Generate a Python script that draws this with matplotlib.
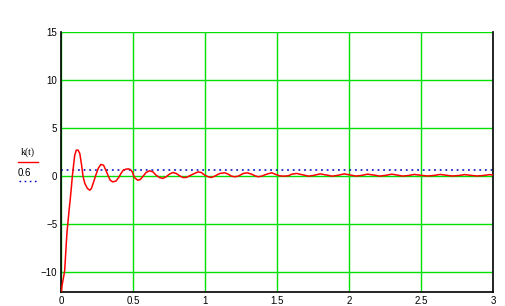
import matplotlib
matplotlib.use("Agg")
import matplotlib.pyplot as plt
from matplotlib.lines import Line2D

# Data
t_vals = [0.000, 0.004, 0.015, 0.022, 0.031, 0.038, 0.045, 0.054, 0.061, 0.068,
          0.075, 0.080, 0.086, 0.092, 0.103, 0.115, 0.127, 0.138, 0.150, 0.162,
          0.180, 0.197, 0.208, 0.227, 0.238, 0.255, 0.273, 0.292, 0.308, 0.324,
          0.338, 0.355, 0.378, 0.396, 0.413, 0.429, 0.448, 0.464, 0.478, 0.492,
          0.506, 0.529, 0.546, 0.564, 0.587, 0.611, 0.634, 0.657, 0.680, 0.703,
          0.727, 0.750, 0.773, 0.797, 0.820, 0.843, 0.867, 0.890, 0.913, 0.948,
          0.971, 0.995, 1.018, 1.041, 1.064, 1.099, 1.134, 1.157, 1.180, 1.204,
          1.227, 1.262, 1.290, 1.320, 1.343, 1.366, 1.390, 1.425, 1.460, 1.483,
          1.513, 1.541, 1.576, 1.599, 1.634, 1.675, 1.715, 1.755, 1.796, 1.840,
          1.880, 1.920, 1.963, 2.005, 2.045, 2.085, 2.126, 2.170, 2.210, 2.250,
          2.295, 2.335, 2.370, 2.410, 2.450, 2.495, 2.540, 2.585, 2.630, 2.675,
          2.715, 2.760, 2.800, 2.845, 2.885, 2.930, 2.970, 3.000]
k_vals = [-12.0, -11.4, -10.5, -9.9, -7.6, -5.9, -4.8, -3.4, -2.4, -1.3,
          -0.1, 0.58, 1.40, 2.15, 2.67, 2.67, 2.32, 1.28, -0.10, -0.80,
          -1.32, -1.50, -1.32, -0.46, 0.06, 0.76, 1.18, 1.10, 0.58, 0.00,
          -0.46, -0.63, -0.56, -0.21, 0.24, 0.58, 0.69, 0.72, 0.65, 0.40,
          -0.18, -0.46, -0.40, -0.10, 0.34, 0.52, 0.42, 0.06, -0.18, -0.28,
          -0.10, 0.17, 0.34, 0.24, 0.00, -0.18, -0.18, 0.00, 0.17, 0.40,
          0.34, 0.06, -0.10, -0.18, -0.04, 0.24, 0.31, 0.17, -0.04, -0.10,
          -0.04, 0.24, 0.31, 0.17, 0.00, -0.10, -0.04, 0.17, 0.31, 0.17,
          0.00, -0.04, 0.00, 0.17, 0.24, 0.10, -0.04, 0.05, 0.20, 0.08,
          -0.04, 0.05, 0.20, 0.08, -0.03, 0.04, 0.17, 0.07, -0.03, 0.04,
          0.17, 0.06, -0.03, 0.03, 0.14, 0.05, -0.02, 0.03, 0.14, 0.05,
          -0.02, 0.03, 0.12, 0.04, -0.02, 0.03, 0.12, 0.08]
ref_level = 0.6
x_ticks = [0, 0.5, 1, 1.5, 2, 2.5, 3]
x_labels = ["0", "0.5", "1", "1.5", "2", "2.5", "3"]
y_ticks = [-10, -5, 0, 5, 10, 15]
y_labels = ["\u221210", "\u22125", "0", "5", "10", "15"]

plt.rcParams['font.family'] = ['Liberation Sans', 'DejaVu Sans']

fig = plt.figure(figsize=(5.06, 3.06), dpi=100)
ax = fig.add_axes([61.5/506, 1 - 292/306, (493.5 - 61.5)/506, (292 - 31.7)/306])

ax.set_xlim(0, 3)
ax.set_ylim(-12.1, 15)
ax.set_xticks(x_ticks)
ax.set_xticklabels(x_labels)
ax.set_yticks(y_ticks)
ax.set_yticklabels(y_labels)
ax.tick_params(length=0, labelsize=7, pad=3, colors='black')
ax.grid(True, color='#00e000', linewidth=1.0)
ax.set_axisbelow(True)

ax.plot(t_vals, k_vals, color='#ff0000', linewidth=1.1, zorder=3)
ax.axhline(ref_level, color='#0000c0', linestyle=(0, (1.2, 2.5)), linewidth=1.1, zorder=2)

for s in ['left', 'bottom', 'right']:
    ax.spines[s].set_color('black')
    ax.spines[s].set_linewidth(1.2)
ax.spines['top'].set_visible(False)

# Legend-like y label
fig.text(28/506, 1 - 152/306, "k(t)", fontsize=7, ha='center', va='center',
         family=['Liberation Serif', 'DejaVu Serif'])
fig.add_artist(Line2D([18/506, 38/506], [1 - 161.5/306, 1 - 161.5/306],
                      color='#ff0000', linewidth=1.0))
fig.text(24/506, 1 - 172.5/306, "0.6", fontsize=7, ha='center', va='center')
fig.add_artist(Line2D([19/506, 38/506], [1 - 181/306, 1 - 181/306],
                      color='#0000c0', linewidth=1.0, linestyle=(0, (1.2, 2.5))))

fig.savefig("out.png", dpi=100)
